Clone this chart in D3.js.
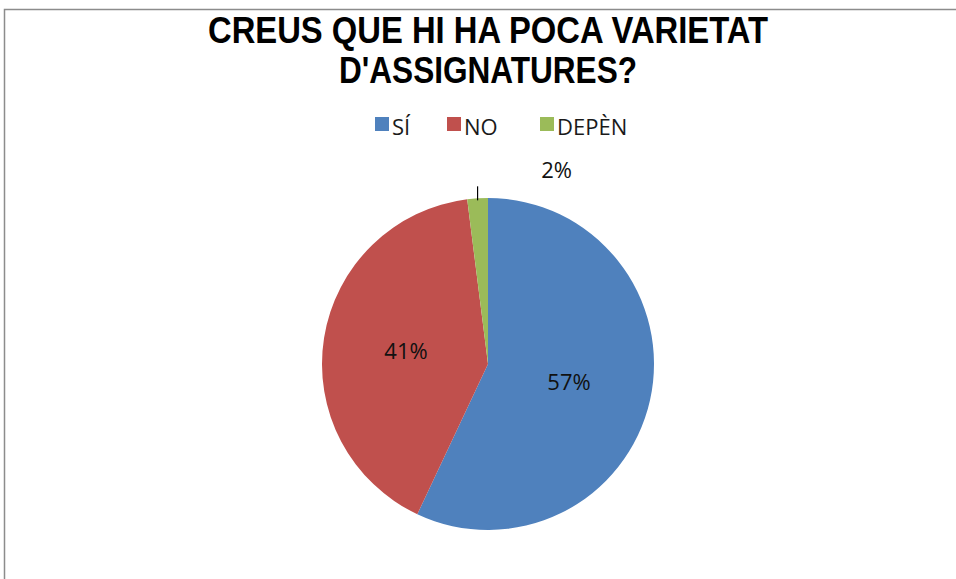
<!DOCTYPE html>
<html><head><meta charset="utf-8">
<script src="https://cdn.jsdelivr.net/npm/d3@7"></script>
<style>html,body{margin:0;padding:0;background:#fff;}svg{display:block;}</style>
</head><body>
<svg id="c" width="956" height="579"></svg>
<script>
const categories = ["SÍ", "NO", "DEPÈN"];
const values = [57, 41, 2];
const colors = ["#4F81BD", "#C0504D", "#9BBB59"];
const titleLines = ["CREUS QUE HI HA POCA VARIETAT", "D'ASSIGNATURES?"];
const titleWidths = [560, 298];

const svg = d3.select("#c");
svg.append("rect").attr("x", 4.5).attr("y", 9.5).attr("width", 960).attr("height", 600)
  .attr("fill", "#fff").attr("stroke", "#8c8c8c").attr("stroke-width", 1.5);

svg.selectAll("text.title").data(titleLines).enter().append("text")
  .attr("class", "title")
  .attr("x", 488).attr("y", (d, i) => 43 + i * 39.5)
  .attr("text-anchor", "middle")
  .attr("font-family", "'Liberation Sans', Arial, sans-serif")
  .attr("font-weight", "bold").attr("font-size", 36)
  .attr("textLength", (d, i) => titleWidths[i])
  .attr("lengthAdjust", "spacingAndGlyphs")
  .attr("fill", "#000")
  .text(d => d);

// legend
const legX = [375, 447, 540];
const leg = svg.selectAll("g.leg").data(categories).enter().append("g")
  .attr("transform", (d, i) => `translate(${legX[i]},117)`);
leg.append("rect").attr("width", 14).attr("height", 14).attr("fill", (d, i) => colors[i]);
leg.append("text").attr("x", 17).attr("y", 18)
  .attr("font-family", "'Open Sans', 'Noto Sans', sans-serif").attr("font-size", 22)
  .attr("fill", "#1a1a1a").text(d => d);

const cx = 488, cy = 364, r = 166;
const pie = d3.pie().sort(null).value(d => d)(values);
const arc = d3.arc().innerRadius(0).outerRadius(r);
const g = svg.append("g").attr("transform", `translate(${cx},${cy})`);
g.selectAll("path").data(pie).enter().append("path")
  .attr("d", arc).attr("fill", (d, i) => colors[i]);

const labelArc = d3.arc().innerRadius(r * 0.5).outerRadius(r * 0.5);
const fontLbl = "'Open Sans', 'Noto Sans', sans-serif";
pie.forEach((d, i) => {
  if (i < 2) {
    const [x, y] = labelArc.centroid(d);
    g.append("text").attr("x", x).attr("y", y + 8).attr("text-anchor", "middle")
      .attr("font-family", fontLbl).attr("font-size", 22).attr("fill", "#111")
      .text(values[i] + "%");
  } else {
    const mid = (d.startAngle + d.endAngle) / 2;
    const x0 = Math.sin(mid) * r, y0 = -Math.cos(mid) * r;
    g.append("line").attr("x1", x0).attr("y1", y0 + 2).attr("x2", x0).attr("y2", y0 - 12)
      .attr("stroke", "#000").attr("stroke-width", 1.2);
    g.append("text").attr("x", x0 + 79).attr("y", y0 - 20).attr("text-anchor", "middle")
      .attr("font-family", fontLbl).attr("font-size", 22).attr("fill", "#111")
      .text(values[i] + "%");
  }
});
</script>
</body></html>
